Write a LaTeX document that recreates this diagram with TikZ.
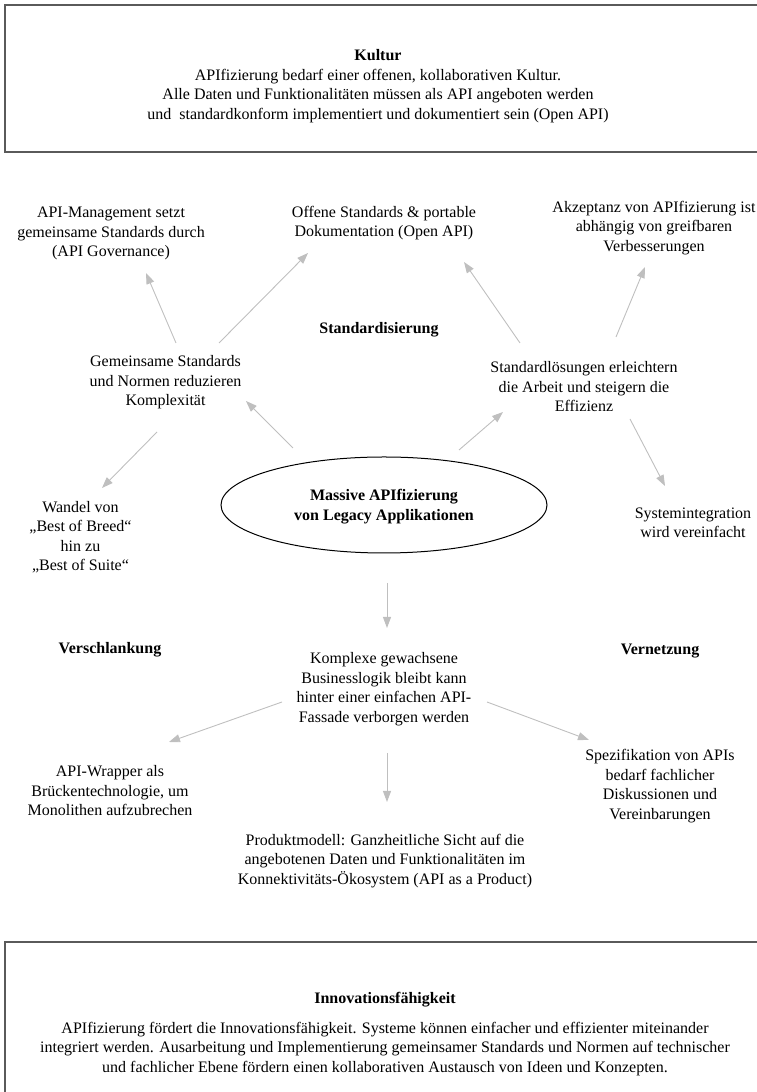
\documentclass[tikz,border=0pt]{standalone}
\usepackage{fontspec}
\setmainfont{Liberation Serif}
\usetikzlibrary{arrows.meta,shapes.geometric}
\definecolor{arrowgray}{RGB}{191,191,191}
\definecolor{framegray}{RGB}{90,90,90}
\begin{document}
\begin{tikzpicture}[x=1pt,y=1pt,
  txt/.style={align=center, font=\fontsize{16}{19.5}\selectfont, inner sep=0pt},
  ttl/.style={align=center, font=\fontsize{16}{19.5}\selectfont\bfseries, inner sep=0pt},
  frame/.style={draw=framegray, line width=1.2pt, inner sep=0pt},
  arr/.style={draw=arrowgray, line width=0.9pt, -{Triangle[length=11pt,width=8pt]}},
]
\useasboundingbox (0,0) rectangle (756,1092);

% frames
\node[frame, minimum width=795pt, minimum height=147pt] (kbox) at (402.5,1013.5) {};
\node[frame, minimum width=795pt, minimum height=210pt] (ibox) at (402.5,45) {};

% top box text
\node[txt] (kultur) at (378,1006) {\textbf{Kultur}\\
APIfizierung bedarf einer offenen, kollaborativen Kultur.\\
Alle Daten und Funktionalitäten müssen als API angeboten werden\\
und~ standardkonform implementiert und dokumentiert sein (Open API)};

% bottom box text
\node[ttl] (innovtitle) at (385,92) {Innovationsfähigkeit};
\node[txt] (innov) at (385,43) {APIfizierung fördert die Innovationsfähigkeit. Systeme können einfacher und effizienter miteinander\\
integriert werden. Ausarbeitung und Implementierung gemeinsamer Standards und Normen auf technischer\\
und fachlicher Ebene fördern einen kollaborativen Austausch von Ideen und Konzepten.};

% middle nodes
\node[txt] (apim) at (111,858.5) {API-Management setzt\\gemeinsame Standards durch\\(API Governance)};
\node[txt] (offene) at (384,869) {Offene Standards \& portable\\Dokumentation (Open API)};
\node[txt] (akzept) at (654,864) {Akzeptanz von APIfizierung ist\\abhängig von greifbaren\\Verbesserungen};
\node[ttl] (stdis) at (379,762) {Standardisierung};
\node[txt] (gem) at (165.5,709.5) {Gemeinsame Standards\\und Normen reduzieren\\Komplexität};
\node[txt] (stdl) at (584,705) {Standardlösungen erleichtern\\die Arbeit und steigern die\\Effizienz};
\node[draw, line width=1pt, ellipse, minimum width=326pt, minimum height=96pt, inner sep=0pt] (ell) at (384,587) {};
\node[ttl] (massive) at (384,585.5) {Massive APIfizierung\\von Legacy Applikationen};
\node[txt] (wandel) at (80.5,555) {Wandel von\\„Best of Breed“\\hin zu\\„Best of Suite“};
\node[txt] (sysint) at (693,569) {Systemintegration\\wird vereinfacht};
\node[ttl] (verschl) at (110,442) {Verschlankung};
\node[ttl] (vernetz) at (660,441) {Vernetzung};
\node[txt] (komplex) at (384,403) {Komplexe gewachsene\\Businesslogik bleibt kann\\hinter einer einfachen API-\\Fassade verborgen werden};
\node[txt] (wrapper) at (110,301) {API-Wrapper als\\Brückentechnologie, um\\Monolithen aufzubrechen};
\node[txt] (spez) at (660,306) {Spezifikation von APIs\\bedarf fachlicher\\Diskussionen und\\Vereinbarungen};
\node[txt] (produkt) at (385,231) {Produktmodell: Ganzheitliche Sicht auf die\\angebotenen Daten und Funktionalitäten im\\Konnektivitäts-Ökosystem (API as a Product)};

% connectors
\draw[arr] ([xshift=10.5pt,yshift=39.5pt]gem.center) -- ([xshift=35pt,yshift=-39.5pt]apim.center);
\draw[arr] ([xshift=53.5pt,yshift=39.5pt]gem.center) -- ([xshift=-76pt,yshift=-30pt]offene.center);
\draw[arr] ([xshift=-64pt,yshift=44pt]stdl.center) -- ([xshift=80pt,yshift=-39pt]offene.center);
\draw[arr] ([xshift=32pt,yshift=50pt]stdl.center) -- ([xshift=-9pt,yshift=-39pt]akzept.center);
\draw[arr] ([xshift=46pt,yshift=-32pt]stdl.center) -- ([xshift=-28pt,yshift=37pt]sysint.center);
\draw[arr] ([xshift=75pt,yshift=55pt]ell.center) -- ([xshift=-81pt,yshift=-25pt]stdl.center);
\draw[arr] ([xshift=-91pt,yshift=57pt]ell.center) -- ([xshift=80.5pt,yshift=-18.5pt]gem.center);
\draw[arr] ([xshift=-8.5pt,yshift=-49.5pt]gem.center) -- ([xshift=21.5pt,yshift=49pt]wandel.center);
\draw[arr] ([xshift=3pt,yshift=-78pt]ell.center) -- ([xshift=3pt,yshift=61pt]komplex.center);
\draw[arr] ([xshift=-102pt,yshift=-13pt]komplex.center) -- ([xshift=59pt,yshift=49pt]wrapper.center);
\draw[arr] ([xshift=103pt,yshift=-13pt]komplex.center) -- ([xshift=-71pt,yshift=46pt]spez.center);
\draw[arr] ([xshift=3pt,yshift=-64pt]komplex.center) -- ([xshift=2pt,yshift=59pt]produkt.center);
\end{tikzpicture}
\end{document}
